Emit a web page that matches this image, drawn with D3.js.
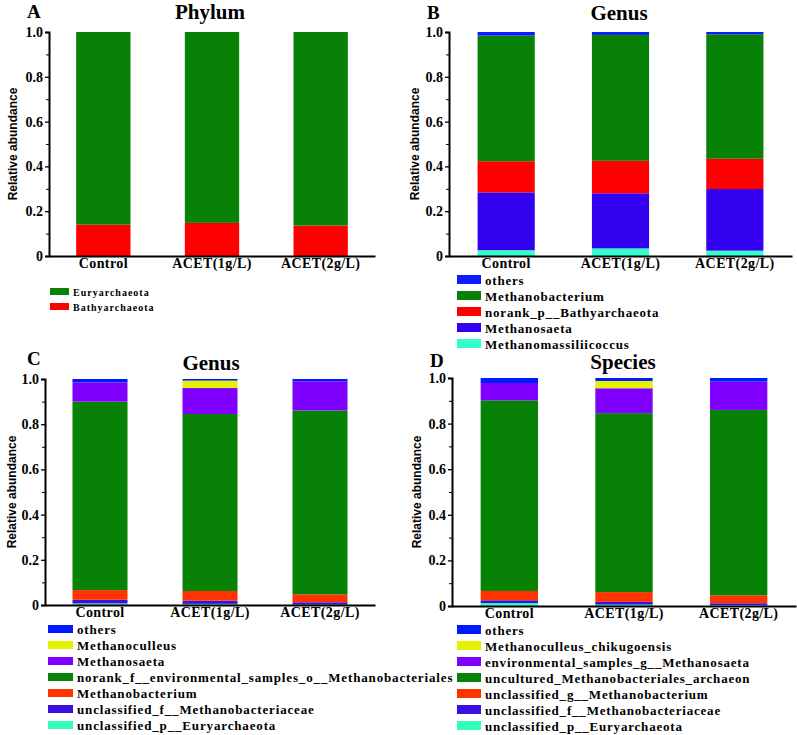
<!DOCTYPE html>
<html>
<head>
<meta charset="utf-8">
<script src="https://cdn.jsdelivr.net/npm/d3@7"></script>
<style>
  body { margin: 0; background: #ffffff; }
  svg { display: block; }
  .serif { font-family: "Liberation Serif", "Times New Roman", serif; font-weight: bold; }
</style>
</head>
<body>
<svg id="chart" width="797" height="735"></svg>
<script>
// sample groups (x axis)
var groups = ["Control", "ACET(1g/L)", "ACET(2g/L)"];

// A - phylum (legend order, top to bottom)
var phylumTaxa = ["Euryarchaeota", "Bathyarchaeota"];
var phylumColors = ["#078207", "#ff0000"];
var phylumEuryarchaeota = [0.860, 0.852, 0.864];
var phylumBathyarchaeota = [0.140, 0.148, 0.136];

// B - genus, 5 taxa
var genusBTaxa = ["others", "Methanobacterium", "norank_p__Bathyarchaeota", "Methanosaeta", "Methanomassiliicoccus"];
var genusBColors = ["#0d1cff", "#078207", "#ff0000", "#3300f0", "#33ffcc"];
var genusBOthers = [0.016, 0.013, 0.010];
var genusBMethanobacterium = [0.561, 0.562, 0.556];
var genusBBathyarchaeota = [0.139, 0.145, 0.135];
var genusBMethanosaeta = [0.258, 0.246, 0.275];
var genusBMethanomassiliicoccus = [0.026, 0.034, 0.024];

// C - genus, 7 taxa
var genusCTaxa = ["others", "Methanoculleus", "Methanosaeta", "norank_f__environmental_samples_o__Methanobacteriales",
  "Methanobacterium", "unclassified_f__Methanobacteriaceae", "unclassified_p__Euryarchaeota"];
var sevenColors = ["#0019ff", "#e2f200", "#8000ff", "#078207", "#ff3300", "#3a10e0", "#33ffbb"];
var genusCOthers = [0.015, 0.007, 0.010];
var genusCMethanoculleus = [0.000, 0.033, 0.000];
var genusCMethanosaeta = [0.085, 0.115, 0.129];
var genusCNorank = [0.834, 0.783, 0.814];
var genusCMethanobacterium = [0.043, 0.043, 0.035];
var genusCUnclassifiedF = [0.016, 0.014, 0.010];
var genusCUnclassifiedP = [0.007, 0.005, 0.002];

// D - species, 7 taxa
var speciesTaxa = ["others", "Methanoculleus_chikugoensis", "environmental_samples_g__Methanosaeta",
  "uncultured_Methanobacteriales_archaeon", "unclassified_g__Methanobacterium",
  "unclassified_f__Methanobacteriaceae", "unclassified_p__Euryarchaeota"];
var speciesOthers = [0.022, 0.013, 0.016];
var speciesChikugoensis = [0.000, 0.032, 0.000];
var speciesEnvSamples = [0.076, 0.109, 0.124];
var speciesUncultured = [0.836, 0.785, 0.813];
var speciesUnclassifiedG = [0.041, 0.043, 0.035];
var speciesUnclassifiedF = [0.012, 0.012, 0.009];
var speciesUnclassifiedP = [0.013, 0.006, 0.003];

var yTicks = [0, 0.2, 0.4, 0.6, 0.8, 1.0];
var yMinorTicks = [0.1, 0.3, 0.5, 0.7, 0.9];

var svg = d3.select("#chart");

var drawPanel = function (cfg) {
  var g = svg.append("g");

  var x = d3.scaleBand().domain(groups).range([cfg.left, cfg.right]).paddingInner(0.5).paddingOuter(0.25);
  var y = d3.scaleLinear().domain([0, 1]).range([cfg.bottom, cfg.top]);

  // build stack rows from the series arrays; bottom of the stack is the last legend entry
  var keys = cfg.taxa.slice().reverse();
  var seriesByKey = {};
  cfg.taxa.forEach(function (t, i) { seriesByKey[t] = cfg.series[i]; });
  var rows = groups.map(function (grp, gi) {
    var row = { group: grp };
    keys.forEach(function (k) { row[k] = seriesByKey[k][gi]; });
    return row;
  });
  var stacked = d3.stack().keys(keys)(rows);
  var color = d3.scaleOrdinal().domain(cfg.taxa).range(cfg.colors);

  g.selectAll("g.layer")
    .data(stacked)
    .enter().append("g")
    .attr("class", "layer")
    .attr("fill", function (d) { return color(d.key); })
    .selectAll("rect")
    .data(function (d) { return d; })
    .enter().append("rect")
    .attr("x", function (d) { return x(d.data.group); })
    .attr("width", x.bandwidth())
    .attr("y", function (d) { return y(d[1]); })
    .attr("height", function (d) { return Math.max(0, y(d[0]) - y(d[1])); });

  // y axis, major + minor ticks
  var yAxis = g.append("g")
    .attr("transform", "translate(" + cfg.left + ",0)")
    .call(d3.axisLeft(y).tickValues(yTicks).tickSize(4).tickPadding(2)
      .tickFormat(function (d) { return d === 0 ? "0" : d3.format(".1f")(d); }));
  yAxis.selectAll("text").attr("class", "serif").style("font-size", "14px").attr("fill", "#000");
  yAxis.select(".domain").attr("stroke-width", 2);
  yAxis.selectAll(".tick line").attr("stroke-width", 1.3);

  g.append("g")
    .attr("transform", "translate(" + cfg.left + ",0)")
    .call(d3.axisLeft(y).tickValues(yMinorTicks).tickSize(3).tickFormat(""))
    .call(function (sel) { sel.select(".domain").remove(); });

  var xAxis = g.append("g")
    .attr("transform", "translate(0," + cfg.bottom + ")")
    .call(d3.axisBottom(x).tickSize(0).tickPadding(2).tickSizeOuter(0));
  xAxis.select(".domain").attr("stroke-width", 2);
  xAxis.selectAll("text").attr("class", "serif").style("font-size", "14px")
    .style("letter-spacing", "0.4px").attr("fill", "#000");

  // axis title
  g.append("text")
    .attr("transform", "translate(" + cfg.yLabelX + "," + ((cfg.top + cfg.bottom) / 2) + ") rotate(-90)")
    .attr("text-anchor", "middle")
    .style("font-family", "'Liberation Sans', Arial, sans-serif")
    .style("font-weight", "bold")
    .style("font-size", "12px")
    .text("Relative abundance");

  // panel letter + title
  g.append("text").attr("class", "serif")
    .attr("x", cfg.letterX).attr("y", cfg.letterY)
    .style("font-size", "19px")
    .text(cfg.letter);
  g.append("text").attr("class", "serif")
    .attr("x", cfg.titleX).attr("y", cfg.titleY)
    .attr("text-anchor", "middle")
    .style("font-size", "21px")
    .text(cfg.title);

  // legend
  var leg = g.append("g").attr("transform", "translate(" + cfg.legX + "," + cfg.legY + ")");
  var item = leg.selectAll("g.item")
    .data(cfg.taxa)
    .enter().append("g")
    .attr("class", "item")
    .attr("transform", function (d, i) { return "translate(0," + (i * cfg.legStep) + ")"; });
  item.append("rect")
    .attr("width", cfg.swatchW).attr("height", cfg.swatchH)
    .attr("fill", function (d) { return color(d); });
  item.append("text").attr("class", "serif")
    .attr("x", cfg.swatchW + 4)
    .attr("y", cfg.swatchH + 0.5)
    .style("font-size", cfg.legFont + "px")
    .style("letter-spacing", cfg.legSpacing + "px")
    .text(function (d) { return d; });
};

drawPanel({
  letter: "A", title: "Phylum", letterX: 27, letterY: 18, titleX: 210, titleY: 19,
  left: 49, right: 375, top: 32, bottom: 256, yLabelX: 17,
  taxa: phylumTaxa, colors: phylumColors,
  series: [phylumEuryarchaeota, phylumBathyarchaeota],
  legX: 50, legY: 288, legStep: 15, swatchW: 19, swatchH: 7, legFont: 10, legSpacing: 1
});

drawPanel({
  letter: "B", title: "Genus", letterX: 427, letterY: 19, titleX: 619, titleY: 20,
  left: 449, right: 792, top: 32, bottom: 256, yLabelX: 419,
  taxa: genusBTaxa, colors: genusBColors,
  series: [genusBOthers, genusBMethanobacterium, genusBBathyarchaeota, genusBMethanosaeta, genusBMethanomassiliicoccus],
  legX: 457, legY: 275, legStep: 16, swatchW: 24, swatchH: 9, legFont: 13, legSpacing: 0.8
});

drawPanel({
  letter: "C", title: "Genus", letterX: 27, letterY: 365, titleX: 211, titleY: 370,
  left: 45, right: 375, top: 379, bottom: 605, yLabelX: 16,
  taxa: genusCTaxa, colors: sevenColors,
  series: [genusCOthers, genusCMethanoculleus, genusCMethanosaeta, genusCNorank,
    genusCMethanobacterium, genusCUnclassifiedF, genusCUnclassifiedP],
  legX: 48, legY: 625, legStep: 16, swatchW: 25, swatchH: 8, legFont: 13, legSpacing: 0.85
});

drawPanel({
  letter: "D", title: "Species", letterX: 430, letterY: 367, titleX: 623, titleY: 369,
  left: 452, right: 796, top: 378, bottom: 606, yLabelX: 421,
  taxa: speciesTaxa, colors: sevenColors,
  series: [speciesOthers, speciesChikugoensis, speciesEnvSamples, speciesUncultured,
    speciesUnclassifiedG, speciesUnclassifiedF, speciesUnclassifiedP],
  legX: 457, legY: 625, legStep: 16, swatchW: 24, swatchH: 9, legFont: 13, legSpacing: 0.8
});
</script>
</body>
</html>
